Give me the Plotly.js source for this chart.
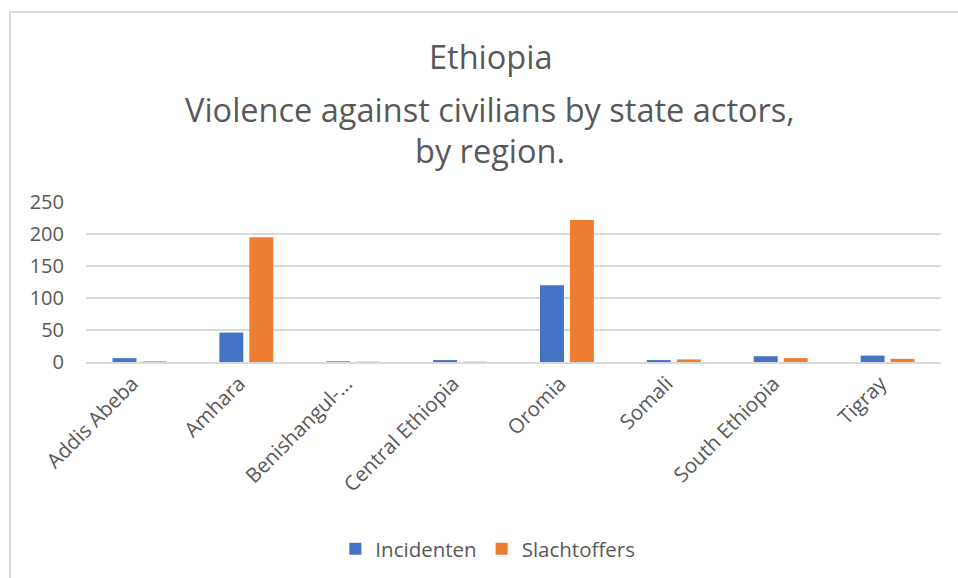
<!DOCTYPE html>
<html>
<head>
<meta charset="utf-8">
<script src="https://cdn.plot.ly/plotly-3.0.1.min.js"></script>
<style>
html,body{margin:0;padding:0;background:#fff;}
#wrap{position:relative;width:958px;height:578px;overflow:hidden;}
#chart{position:absolute;left:0;top:0;width:958px;height:578px;}
#frame{position:absolute;left:9px;top:11px;width:960px;height:600px;border-left:2px solid #d9d9d9;border-top:2px solid #d9d9d9;pointer-events:none;}
</style>
</head>
<body>
<div id="wrap"><div id="chart"></div><div id="frame"></div></div>
<script>
const categories = ["Addis Abeba","Amhara","Benishangul-...","Central Ethiopia","Oromia","Somali","South Ethiopia","Tigray"];
const incidenten = [6, 46, 1, 3, 120, 3, 9, 10];
const slachtoffers = [1, 195, 0.5, 0.5, 222, 4, 6, 5];
const yTicks = [0, 50, 100, 150, 200, 250];
const titleLines = ["Ethiopia", "Violence against civilians by state actors,", "by region."];

const FONT = "Open Sans, sans-serif";
const TXT = "#595959";

const traces = [
  {type:"bar", name:"Incidenten", x:categories, y:incidenten, marker:{color:"#4472C4"}, hoverinfo:"x+y"},
  {type:"bar", name:"Slachtoffers", x:categories, y:slachtoffers, marker:{color:"#ED7D31"}, hoverinfo:"x+y"}
];

// title lines placed as annotations (paper coords relative to plot area: 0 -> y px 363, 1 -> y px 202)
const titleY = [1.91, 1.58, 1.32];
const annotations = titleLines.map((t, i) => ({
  text:t, xref:"paper", yref:"paper", x:0.473, y:titleY[i], xanchor:"center", yanchor:"middle",
  showarrow:false, font:{family:FONT, size:32.5, color:TXT}
}));

const layout = {
  width:958, height:578,
  paper_bgcolor:"#ffffff", plot_bgcolor:"#ffffff",
  margin:{l:86, r:17, t:202, b:215, pad:0},
  barmode:"group", bargap:0.44, bargroupgap:0.2,
  annotations:annotations,
  xaxis:{type:"category", tickangle:-45, tickfont:{family:FONT, size:20.5, color:TXT},
         ticklabelshift:-7,
         showgrid:false, showline:true, linecolor:"#d9d9d9", linewidth:1.5, ticks:"", zeroline:false},
  yaxis:{range:[0,250], tickvals:yTicks, ticktext:yTicks.map(String), tickfont:{family:FONT, size:20, color:TXT},
         showgrid:true, gridcolor:"#d9d9d9", gridwidth:1.5, zeroline:false, showline:false,
         ticks:"outside", ticklen:17, tickcolor:"rgba(0,0,0,0)"},
  legend:{orientation:"h", x:0.47, xanchor:"center", y:-1.155, yanchor:"middle",
          font:{family:FONT, size:20.5, color:TXT}, traceorder:"normal", itemwidth:30},
  showlegend:true
};

Plotly.newPlot("chart", traces, layout, {displayModeBar:false, staticPlot:true});
</script>
</body>
</html>
